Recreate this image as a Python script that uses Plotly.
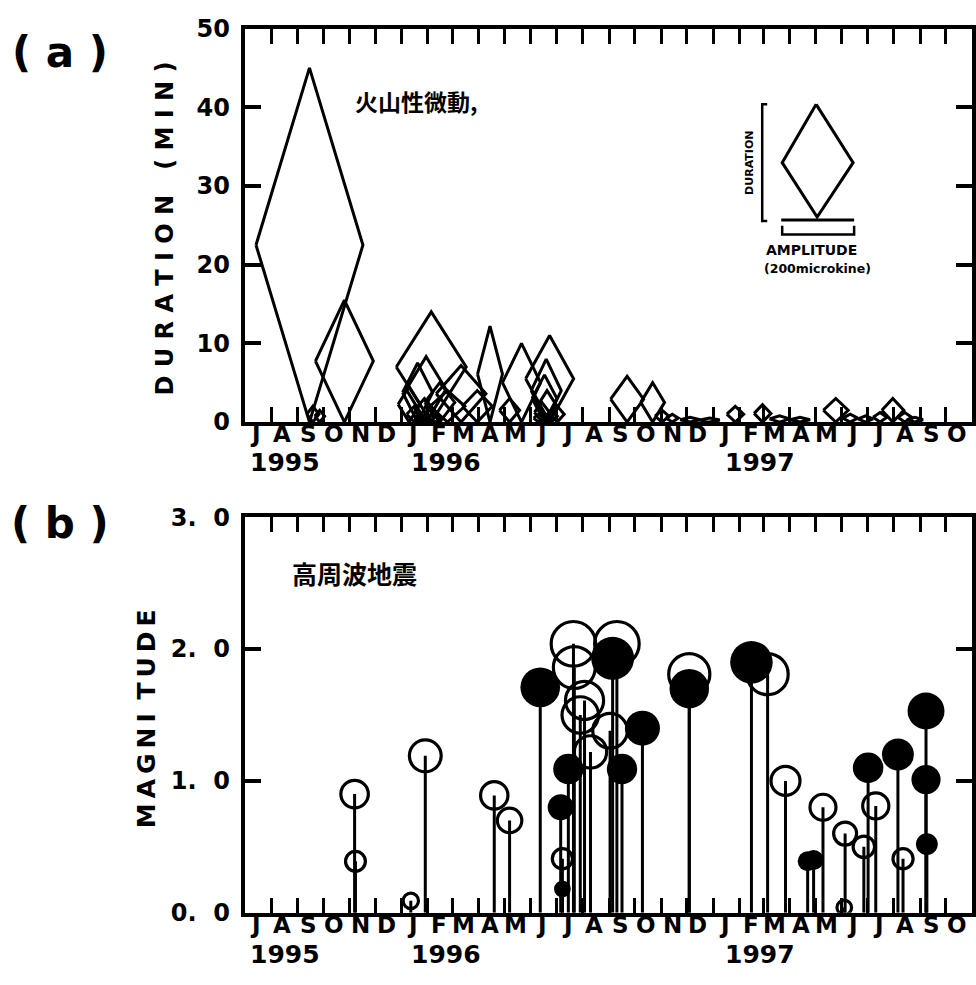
import pandas as pd
import plotly.graph_objects as go

# ---------------- data ----------------
MONTH_INITIALS = ["J", "F", "M", "A", "M", "J", "J", "A", "S", "O", "N", "D"]
X_START, X_END = "1995-07-01", "1997-11-01"
YEAR_LABELS = ["1995", "1996", "1997"]
YEAR_LABEL_DATES = ["1995-08-17", "1996-02-22", "1997-02-25"]

# (a) volcanic tremor: date, duration (min), amplitude (microkine)
tremor_dates = [
    "1995-09-15", "1995-10-26", "1995-09-19", "1995-09-27",
    "1996-02-05", "1996-01-30", "1996-01-20", "1996-01-10", "1996-02-15",
    "1996-01-28", "1996-01-16", "1996-02-03", "1996-03-11", "1996-02-24",
    "1996-04-14", "1996-03-30", "1996-05-21", "1996-05-07",
    "1996-06-23", "1996-06-19", "1996-06-17", "1996-06-20", "1996-06-14",
    "1996-06-25", "1996-06-10", "1996-07-02", "1996-01-22", "1996-02-09",
    "1996-09-22", "1996-10-22", "1996-11-02", "1996-11-14", "1996-12-05",
    "1996-12-28", "1997-01-27", "1997-02-28", "1997-03-20", "1997-04-13",
    "1997-05-25", "1997-06-11", "1997-06-29", "1997-07-16", "1997-07-31",
    "1997-08-14", "1997-08-26",
]
tremor_duration = [
    45.0, 15.5, 2.0, 1.5,
    14.0, 8.3, 7.5, 4.5, 5.0,
    3.0, 2.0, 1.5, 7.2, 4.0,
    12.2, 4.0, 10.0, 3.0,
    11.0, 8.0, 6.0, 4.0, 2.5,
    1.5, 1.0, 2.0, 1.0, 1.0,
    5.8, 5.0, 1.5, 1.0, 0.6,
    0.5, 2.0, 2.2, 0.8, 0.6,
    3.0, 1.0, 0.8, 1.2, 3.0,
    1.2, 0.6,
]
tremor_amplitude = [
    292, 158, 33, 27,
    191, 109, 82, 60, 82,
    55, 41, 33, 136, 95,
    68, 82, 104, 55,
    131, 82, 68, 55, 41,
    33, 27, 38, 27, 38,
    90, 65, 38, 33, 55,
    55, 46, 46, 55, 55,
    68, 41, 41, 38, 60,
    38, 44,
]
AMP_SCALE_MICROKINE = 200      # legend bar
AMP_SCALE_DAYS = 86            # time-axis length of the legend bar

# (b) high-frequency earthquakes: date, magnitude, filled (1) / open (0)
hf_dates = [
    "1995-11-07", "1995-11-08", "1996-01-12", "1996-01-29", "1996-04-19",
    "1996-05-07", "1996-06-12", "1996-07-06", "1996-07-08", "1996-07-08",
    "1996-07-15", "1996-07-21", "1996-07-22", "1996-07-29", "1996-08-03",
    "1996-08-10", "1996-09-02", "1996-09-05", "1996-09-10", "1996-09-16",
    "1996-10-10", "1996-12-04", "1996-12-04", "1997-02-15", "1997-03-06",
    "1997-03-27", "1997-04-22", "1997-04-29", "1997-05-10", "1997-06-04",
    "1997-06-05", "1997-06-27", "1997-07-02", "1997-07-11", "1997-08-06",
    "1997-08-12", "1997-09-08", "1997-09-08", "1997-09-09",
]
hf_magnitude = [
    0.90, 0.39, 0.09, 1.19, 0.89,
    0.70, 1.71, 0.80, 0.41, 0.18,
    1.09, 2.04, 1.86, 1.50, 1.61,
    1.22, 1.38, 1.93, 2.04, 1.09,
    1.40, 1.81, 1.70, 1.90, 1.81,
    1.00, 0.39, 0.40, 0.80, 0.04,
    0.60, 0.50, 1.10, 0.81, 1.20,
    0.41, 1.53, 1.01, 0.52,
]
hf_filled = [
    0, 0, 0, 0, 0,
    0, 1, 1, 0, 1,
    1, 0, 0, 0, 0,
    0, 0, 1, 0, 1,
    1, 0, 1, 1, 0,
    0, 1, 1, 0, 0,
    0, 0, 1, 0, 1,
    0, 1, 1, 1,
]

DUR_TICKS = [0, 10, 20, 30, 40, 50]
MAG_TICKS = [0, 1, 2, 3]
MAG_TICK_TEXT = ["0.\u00a0\u00a00", "1.\u00a0\u00a00", "2.\u00a0\u00a00", "3.\u00a0\u00a00"]

# ---------------- layout helpers ----------------
W, H = 976, 985
def px(x):
    return x / W
def py(y):
    return 1 - y / H

FONT = "DejaVu Sans"
CJK = "Noto Sans CJK JP"
BLACK = "black"

fig = go.Figure()

# ---- (a) diamonds ----
dx, dy = [], []
for d, dur, amp in zip(tremor_dates, tremor_duration, tremor_amplitude):
    c = pd.Timestamp(d)
    half = pd.Timedelta(days=amp / AMP_SCALE_MICROKINE * AMP_SCALE_DAYS / 2)
    pts_x = [c - half, c, c + half, c, c - half]
    pts_y = [dur / 2, dur, dur / 2, 0, dur / 2]
    dx += [p.strftime("%Y-%m-%d %H:%M") for p in pts_x] + [None]
    dy += pts_y + [None]
fig.add_trace(go.Scatter(x=dx, y=dy, mode="lines", xaxis="x", yaxis="y",
                         line=dict(color=BLACK, width=3), showlegend=False,
                         hoverinfo="skip", connectgaps=False))

# ---- (b) stems ----
sx, sy = [], []
for d, m in zip(hf_dates, hf_magnitude):
    sx += [d, d, None]
    sy += [0, m, None]
fig.add_trace(go.Scatter(x=sx, y=sy, mode="lines", xaxis="x2", yaxis="y2",
                         line=dict(color=BLACK, width=3), showlegend=False,
                         hoverinfo="skip"))

def msize(m):
    return 14 + 15 * m

open_idx = [i for i, f in enumerate(hf_filled) if f == 0]
fill_idx = [i for i, f in enumerate(hf_filled) if f == 1]
fig.add_trace(go.Scatter(
    x=[hf_dates[i] for i in open_idx], y=[hf_magnitude[i] for i in open_idx],
    mode="markers", xaxis="x2", yaxis="y2", showlegend=False,
    marker=dict(symbol="circle-open", size=[msize(hf_magnitude[i]) for i in open_idx],
                color=BLACK, opacity=1, line=dict(width=3.2, color=BLACK))))
fig.add_trace(go.Scatter(
    x=[hf_dates[i] for i in fill_idx], y=[hf_magnitude[i] for i in fill_idx],
    mode="markers", xaxis="x2", yaxis="y2", showlegend=False,
    marker=dict(symbol="circle", size=[msize(hf_magnitude[i]) for i in fill_idx],
                color=BLACK, opacity=1, line=dict(width=0))))

# ---- axes ----
month_starts = pd.date_range(X_START, "1997-10-01", freq="MS")
boundaries = [d.strftime("%Y-%m-%d") for d in month_starts[1:]]

x_common = dict(type="date", range=[X_START, X_END], tickmode="array",
                tickvals=boundaries, ticks="inside", ticklen=15, tickwidth=3,
                tickcolor=BLACK, showticklabels=False, showline=True,
                linewidth=4, linecolor=BLACK, mirror="allticks",
                showgrid=False, zeroline=False,
                domain=[px(245), px(973)])
y_common = dict(ticks="inside", ticklen=16, tickwidth=3.5, tickcolor=BLACK,
                showline=True, linewidth=4, linecolor=BLACK, mirror="allticks",
                showgrid=False, zeroline=False, tickmode="array",
                tickfont=dict(family=FONT, size=24, color=BLACK, weight="bold"),
                ticklabelstandoff=6)

fig.update_layout(
    width=W, height=H, margin=dict(l=0, r=0, t=0, b=0),
    paper_bgcolor="white", plot_bgcolor="white", showlegend=False,
    xaxis=dict(**x_common, anchor="y"),
    yaxis=dict(**y_common, anchor="x", range=[0, 50], tickvals=DUR_TICKS,
               ticktext=[str(v) for v in DUR_TICKS],
               domain=[py(420), py(15)]),
    xaxis2=dict(**x_common, anchor="y2"),
    yaxis2=dict(**y_common, anchor="x2", range=[0, 3], tickvals=MAG_TICKS,
                ticktext=MAG_TICK_TEXT, domain=[py(925), py(518)]),
)

ann = []
def text(x, y, s, size, xref="paper", xanchor="center", angle=0, family=FONT):
    ann.append(dict(x=x, y=y, xref=xref, yref="paper", text=s, showarrow=False,
                    xanchor=xanchor, yanchor="middle", textangle=angle,
                    font=dict(family=family, size=size, color=BLACK, weight="bold")))

# month letters and years
for xr, ymon, yyr in [("x", 432, 462), ("x2", 938, 968)]:
    for d in month_starts:
        mid = d + pd.Timedelta(days=13)
        text(mid.strftime("%Y-%m-%d"), py(ymon), MONTH_INITIALS[d.month - 1], 23, xref=xr)
    for lab, ld in zip(YEAR_LABELS, YEAR_LABEL_DATES):
        text(ld, py(yyr), lab, 25, xref=xr)

# panel labels
text(px(60), py(40), "(\u00a0a\u00a0)", 42)
text(px(60), py(524), "(\u00a0b\u00a0)", 42)

# axis titles
text(px(165), py(221), "D U R A T I O N \u00a0 ( M I N )", 24, angle=-90)
text(px(147), py(725), "M\u2009A\u2009G\u2009N\u2009I \u2009T\u2009U\u2009D\u2009E", 25, angle=-90)

# in-panel captions
text(px(353), py(90), "火山性微動,", 23, xanchor="left", family=CJK)
text(px(290), py(575), "高周波地震", 25, xanchor="left", family=CJK)

# inset legend texts
text(px(750), py(153), "DURATION", 11, angle=-90)
text(px(812), py(243), "AMPLITUDE", 14)
text(px(818), py(262), "(200microkine)", 12.5)
fig.update_layout(annotations=ann)

def path(points, width):
    d = "M " + " L ".join(f"{px(a):.5f},{py(b):.5f}" for a, b in points)
    return dict(type="path", path=d, xref="paper", yref="paper",
                line=dict(color=BLACK, width=width))

shapes = [
    path([(817, 93), (783, 153), (818, 209), (854, 153), (817, 93)], 3),
    path([(782, 212), (855, 212)], 3),
    path([(768, 93), (763, 93), (763, 213), (768, 213)], 2.5),
    path([(783, 218), (783, 227), (855, 227), (855, 218)], 2.5),
]
fig.update_layout(shapes=shapes)

fig.write_html("out.html")
